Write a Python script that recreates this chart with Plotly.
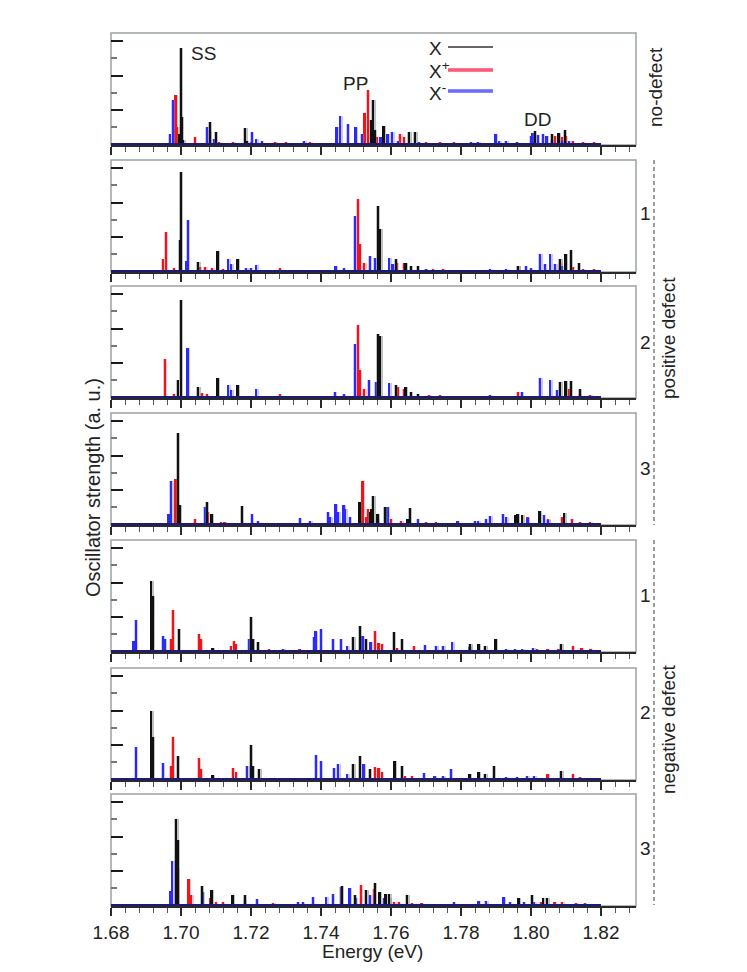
import plotly.graph_objects as go
from plotly.subplots import make_subplots

# peak positions (eV) and oscillator strengths (a.u.)
# x = neutral exciton X, xp = X+, xm = X-

# no defect
nd_x = [(1.6995, 0.3), (1.7000, 2.81), (1.7003, 0.80), (1.7007, 0.12), (1.7083, 0.64), (1.7101, 0.34),
        (1.7184, 0.46), (1.7188, 0.10), (1.7543, 0.71), (1.7550, 1.29), (1.7555, 0.40), (1.7579, 0.52),
        (1.7653, 0.35), (1.7670, 0.35), (1.8012, 0.38), (1.8060, 0.29), (1.8079, 0.33), (1.8097, 0.40)]
nd_xp = [(1.6985, 1.43), (1.6990, 0.50), (1.7040, 0.20), (1.7083, 0.38), (1.7110, 0.06), (1.7150, 0.05),
         (1.7200, 0.05), (1.7270, 0.05), (1.7300, 0.05), (1.7370, 0.05), (1.7525, 0.90), (1.7535, 1.58),
         (1.7560, 0.20), (1.7627, 0.29), (1.7637, 0.22), (1.7700, 0.05), (1.7740, 0.05), (1.7780, 0.05),
         (1.7830, 0.04), (1.8070, 0.24), (1.8090, 0.20), (1.8100, 0.24), (1.8120, 0.10), (1.8150, 0.07),
         (1.8180, 0.06)]
nd_xm = [(1.6970, 0.30), (1.6977, 1.30), (1.7074, 0.49), (1.7095, 0.15), (1.7203, 0.35), (1.7216, 0.14),
         (1.7232, 0.08), (1.7353, 0.10), (1.7445, 0.50), (1.7456, 0.81), (1.7478, 0.60), (1.7499, 0.50),
         (1.7518, 0.30), (1.7555, 0.15), (1.7571, 0.20), (1.7591, 0.29), (1.7604, 0.36), (1.7620, 0.10),
         (1.7680, 0.06), (1.7830, 0.05), (1.7850, 0.05), (1.7899, 0.31), (1.7910, 0.10), (1.7930, 0.08),
         (1.7960, 0.07), (1.8000, 0.25), (1.8005, 0.33), (1.8020, 0.28), (1.8035, 0.30), (1.8045, 0.25),
         (1.8060, 0.12), (1.8090, 0.10), (1.8110, 0.08)]

# positive defect 1
p1_x = [(1.6998, 0.90), (1.7000, 2.89), (1.7050, 0.26), (1.7105, 0.59), (1.7162, 0.35), (1.7563, 1.90),
        (1.7570, 1.24), (1.7614, 0.35), (1.7642, 0.24), (1.7658, 0.14), (1.7678, 0.14), (1.7964, 0.16),
        (1.8084, 0.36), (1.8099, 0.50), (1.8115, 0.62), (1.8138, 0.24)]
p1_xp = [(1.6950, 0.35), (1.6957, 1.14), (1.6980, 0.10), (1.7055, 0.12), (1.7070, 0.12), (1.7090, 0.08),
         (1.7120, 0.06), (1.7283, 0.10), (1.7506, 2.10), (1.7512, 0.80), (1.7524, 0.24), (1.7617, 0.24),
         (1.7637, 0.24), (1.7700, 0.07), (1.7720, 0.07), (1.7750, 0.07), (1.7964, 0.14), (1.8084, 0.24),
         (1.8120, 0.12), (1.8150, 0.07), (1.8180, 0.06)]
p1_xm = [(1.7016, 0.30), (1.7021, 1.48), (1.7136, 0.35), (1.7144, 0.20), (1.7187, 0.10), (1.7201, 0.10),
         (1.7216, 0.17), (1.7442, 0.16), (1.7466, 0.10), (1.7498, 1.62), (1.7540, 0.45), (1.7555, 0.38),
         (1.7596, 0.38), (1.7605, 0.20), (1.7700, 0.06), (1.7884, 0.07), (1.7930, 0.07), (1.7986, 0.15),
         (1.8000, 0.10), (1.8027, 0.50), (1.8040, 0.20), (1.8056, 0.50), (1.8070, 0.20), (1.8090, 0.15)]

# positive defect 2
p2_x = [(1.6993, 0.50), (1.7000, 2.82), (1.7050, 0.29), (1.7105, 0.57), (1.7162, 0.35), (1.7563, 1.85),
        (1.7570, 1.77), (1.7614, 0.35), (1.7642, 0.29), (1.7658, 0.14), (1.7678, 0.10), (1.8084, 0.43),
        (1.8099, 0.48), (1.8115, 0.48), (1.8140, 0.24)]
p2_xp = [(1.6954, 1.12), (1.6980, 0.10), (1.7060, 0.12), (1.7075, 0.10), (1.7283, 0.08), (1.7506, 2.10),
         (1.7512, 0.80), (1.7524, 0.24), (1.7620, 0.29), (1.7637, 0.24), (1.7710, 0.07), (1.7740, 0.07),
         (1.7964, 0.15), (1.8110, 0.24), (1.8140, 0.10), (1.8170, 0.06)]
p2_xm = [(1.7019, 1.42), (1.7136, 0.35), (1.7144, 0.20), (1.7216, 0.24), (1.7440, 0.16), (1.7466, 0.10),
         (1.7498, 1.56), (1.7537, 0.50), (1.7558, 0.43), (1.7596, 0.41), (1.7884, 0.07), (1.7975, 0.15),
         (1.8027, 0.56), (1.8056, 0.50), (1.8075, 0.20)]

# positive defect 3
p3_x = [(1.6992, 2.65), (1.6998, 0.55), (1.7075, 0.64), (1.7088, 0.30), (1.7175, 0.52), (1.7511, 0.64),
        (1.7540, 0.35), (1.7545, 0.45), (1.7550, 0.83), (1.7562, 0.30), (1.7584, 0.50), (1.7648, 0.15),
        (1.7654, 0.47), (1.7956, 0.28), (1.7962, 0.30), (1.7976, 0.28), (1.8025, 0.37), (1.8096, 0.32)]
p3_xp = [(1.6985, 1.31), (1.7041, 0.16), (1.7077, 0.35), (1.7115, 0.07), (1.7125, 0.06), (1.7519, 1.26),
         (1.7530, 0.21), (1.7534, 0.45), (1.7601, 0.16), (1.7630, 0.10), (1.7650, 0.10), (1.7700, 0.07),
         (1.7730, 0.07), (1.7991, 0.20), (1.8050, 0.15), (1.8090, 0.20), (1.8118, 0.16), (1.8140, 0.07),
         (1.8170, 0.06)]
p3_xm = [(1.6965, 0.30), (1.6973, 1.26), (1.7070, 0.50), (1.7203, 0.30), (1.7221, 0.10), (1.7341, 0.19),
         (1.7370, 0.08), (1.7421, 0.35), (1.7427, 0.20), (1.7442, 0.59), (1.7450, 0.35), (1.7465, 0.55),
         (1.7470, 0.45), (1.7483, 0.21), (1.7562, 0.15), (1.7591, 0.50), (1.7678, 0.16), (1.7791, 0.10),
         (1.7840, 0.10), (1.7850, 0.10), (1.7873, 0.16), (1.7884, 0.24), (1.7920, 0.30), (1.7930, 0.22),
         (1.7991, 0.18), (1.8038, 0.26), (1.8050, 0.12)]

# negative defect 1
n1_x = [(1.6916, 2.04), (1.6920, 1.60), (1.6995, 0.65), (1.7091, 0.10), (1.7201, 0.99), (1.7206, 0.36),
        (1.7221, 0.27), (1.7493, 0.41), (1.7512, 0.73), (1.7529, 0.36), (1.7609, 0.56), (1.7632, 0.36),
        (1.7827, 0.22), (1.7851, 0.22), (1.7870, 0.15), (1.7899, 0.36), (1.8087, 0.22)]
n1_xp = [(1.6972, 0.35), (1.6977, 1.21), (1.7052, 0.51), (1.7057, 0.35), (1.7144, 0.15), (1.7152, 0.29),
         (1.7157, 0.22), (1.7252, 0.05), (1.7339, 0.05), (1.7555, 0.58), (1.7565, 0.25), (1.7575, 0.22),
         (1.7617, 0.10), (1.7666, 0.15), (1.8017, 0.07), (1.8048, 0.07), (1.8079, 0.07), (1.8120, 0.15),
         (1.8145, 0.08), (1.8171, 0.06)]
n1_xm = [(1.6865, 0.30), (1.6872, 0.92), (1.6949, 0.44), (1.6954, 0.35), (1.7195, 0.36), (1.7206, 0.36),
         (1.7293, 0.05), (1.7380, 0.40), (1.7385, 0.58), (1.7401, 0.65), (1.7435, 0.36), (1.7457, 0.36),
         (1.7476, 0.15), (1.7519, 0.44), (1.7542, 0.27), (1.7697, 0.17), (1.7730, 0.15), (1.7750, 0.15),
         (1.7776, 0.27), (1.7825, 0.12), (1.7930, 0.07), (1.7955, 0.07), (1.7976, 0.07), (1.8007, 0.10)]

# negative defect 2
n2_x = [(1.6916, 1.98), (1.6920, 1.22), (1.6992, 0.67), (1.7091, 0.11), (1.7201, 1.00), (1.7206, 0.38),
        (1.7224, 0.30), (1.7493, 0.45), (1.7512, 0.67), (1.7540, 0.29), (1.7611, 0.52), (1.7632, 0.38),
        (1.7825, 0.14), (1.7851, 0.20), (1.7870, 0.14), (1.7894, 0.38), (1.8087, 0.24)]
n2_xp = [(1.6972, 0.38), (1.6978, 1.22), (1.7052, 0.62), (1.7057, 0.30), (1.7149, 0.33), (1.7157, 0.20),
         (1.7555, 0.36), (1.7565, 0.33), (1.7575, 0.20), (1.7640, 0.10), (1.7660, 0.10), (1.8048, 0.14),
         (1.8120, 0.16), (1.8140, 0.07)]
n2_xm = [(1.6872, 0.93), (1.6949, 0.46), (1.7190, 0.38), (1.7386, 0.71), (1.7401, 0.52), (1.7437, 0.33),
         (1.7450, 0.43), (1.7476, 0.14), (1.7522, 0.43), (1.7695, 0.17), (1.7725, 0.10), (1.7750, 0.10),
         (1.7772, 0.30), (1.7930, 0.07), (1.7960, 0.07), (1.7990, 0.08), (1.8010, 0.08)]

# negative defect 3
n3_x = [(1.6987, 2.52), (1.6992, 1.90), (1.7060, 0.57), (1.7088, 0.43), (1.7148, 0.29), (1.7183, 0.30),
        (1.7460, 0.57), (1.7498, 0.29), (1.7530, 0.43), (1.7555, 0.65), (1.7568, 0.38), (1.7585, 0.33),
        (1.7596, 0.33), (1.7647, 0.29), (1.7965, 0.21), (1.8003, 0.29), (1.8036, 0.21), (1.8047, 0.20)]
n3_xp = [(1.6990, 1.07), (1.7022, 0.76), (1.7030, 0.30), (1.7085, 0.21), (1.7100, 0.10), (1.7120, 0.10),
         (1.7264, 0.05), (1.7514, 0.59), (1.7552, 0.48), (1.7610, 0.10), (1.7623, 0.10), (1.7660, 0.07),
         (1.7688, 0.07), (1.8030, 0.10), (1.8068, 0.10), (1.8090, 0.10), (1.8130, 0.05), (1.8155, 0.05)]
n3_xm = [(1.6971, 0.40), (1.6976, 1.29), (1.7063, 0.38), (1.7183, 0.15), (1.7218, 0.17), (1.7335, 0.08),
         (1.7349, 0.10), (1.7378, 0.24), (1.7416, 0.24), (1.7435, 0.33), (1.7458, 0.52), (1.7482, 0.50),
         (1.7500, 0.20), (1.7540, 0.30), (1.7580, 0.20), (1.7596, 0.20), (1.7780, 0.08), (1.7851, 0.12),
         (1.7873, 0.12), (1.7922, 0.24), (1.7940, 0.10), (1.7980, 0.10), (1.8010, 0.10)]

panels = [(nd_x, nd_xp, nd_xm), (p1_x, p1_xp, p1_xm), (p2_x, p2_xp, p2_xm), (p3_x, p3_xp, p3_xm),
          (n1_x, n1_xp, n1_xm), (n2_x, n2_xp, n2_xm), (n3_x, n3_xp, n3_xm)]
panel_labels = ["1", "2", "3", "1", "2", "3"]
x_ticks = [1.68, 1.70, 1.72, 1.74, 1.76, 1.78, 1.80, 1.82]

# page layout in screen pixels; the html body adds an 8px margin, so the
# figure itself is 16px smaller than the window and everything is shifted by 8
OFF = 8
W, H = 747 - 2 * OFF, 972 - 2 * OFF
L, R, T, B = 111, 636, 33, 907
tops = [33, 160, 286, 413, 540, 668, 794]
PH = 112


def px(x):
    return (x - L) / (R - L)


def py(y):
    return (B - y) / (B - T)


FONT = "Liberation Sans, Arial, sans-serif"
TXT = "#222222"
# (core colour, halo colour) for X, X+, X-
colors = {"x": ("#111111", "#6f7878"), "xp": ("#f01414", "#ff7a98"), "xm": ("#2b2bf5", "#8a8aff")}

fig = make_subplots(rows=7, cols=1)

for i, (sx, sxp, sxm) in enumerate(panels):
    row = i + 1
    for key, series in (("xp", sxp), ("xm", sxm), ("x", sx)):
        e = [p[0] for p in series]
        h = [p[1] for p in series]
        core, halo = colors[key]
        fig.add_trace(go.Bar(x=e, y=h, width=0.0012, marker=dict(color=halo, line_width=0),
                             opacity=0.45, hoverinfo="skip"), row=row, col=1)
        fig.add_trace(go.Bar(x=e, y=h, width=0.0005, marker=dict(color=core, line_width=0),
                             hoverinfo="x+y"), row=row, col=1)
    fig.add_trace(go.Scatter(x=[1.68, 1.82], y=[0, 0], mode="lines",
                             line=dict(color="#1c1c78", width=2.5), hoverinfo="skip"), row=row, col=1)

    top = tops[i]
    dom = [py(top + PH), py(top)]
    fig.update_yaxes(domain=dom, range=[-0.025, 3.24], showticklabels=False, showgrid=False,
                     zeroline=False, showline=False, ticks="inside", ticklen=12, tickwidth=2,
                     tickcolor="#1a1a1a", dtick=1, tick0=0,
                     minor=dict(dtick=0.5, tick0=0, ticks="inside", ticklen=6, tickwidth=1.5,
                                tickcolor="#777777"),
                     row=row, col=1)
    fig.update_xaxes(range=[1.68, 1.83], showgrid=False, zeroline=False, showline=True,
                     linecolor="#2a2a2a", linewidth=1.5, ticks="outside", ticklen=8, tickwidth=1.5,
                     tickcolor="#2a2a2a", tickvals=x_ticks, tickformat=".2f",
                     showticklabels=(row == 7), tickfont=dict(size=19, color=TXT, family=FONT),
                     minor=dict(dtick=0.004, tick0=1.68, ticks="outside", ticklen=5, tickwidth=1.2,
                                tickcolor="#555555"),
                     row=row, col=1)
    # light grey frame around each panel
    fig.add_shape(type="rect", xref="paper", yref="paper", x0=0, x1=1, y0=dom[0], y1=dom[1],
                  line=dict(color="#9aa2a2", width=1.5), layer="below")

annotations = []


def label(text, x, y, size=19, angle=0, xanchor="center"):
    annotations.append(dict(text=text, xref="paper", yref="paper", x=px(x), y=py(y),
                            xanchor=xanchor, yanchor="middle", showarrow=False, textangle=angle,
                            font=dict(size=size, color=TXT, family=FONT)))


label("SS", 203, 54)
label("PP", 355, 84)
label("DD", 537, 120)

# legend drawn by hand (text left of line)
label("X", 427, 48.5, xanchor="left")
label("X<sup>+</sup>", 427, 70, xanchor="left")
label("X<sup>-</sup>", 427, 92, xanchor="left")
for yl, key in ((47, "x"), (70, "xp"), (91, "xm")):
    core, halo = colors[key]
    if key == "x":
        fig.add_shape(type="line", xref="paper", yref="paper", x0=px(448), x1=px(493), y0=py(yl),
                      y1=py(yl), line=dict(color="#333333", width=1.5))
    else:
        fig.add_shape(type="line", xref="paper", yref="paper", x0=px(448), x1=px(493), y0=py(yl),
                      y1=py(yl), line=dict(color=halo, width=4))
        fig.add_shape(type="line", xref="paper", yref="paper", x0=px(448), x1=px(493), y0=py(yl),
                      y1=py(yl), line=dict(color=core, width=1), opacity=0.6)

# right-hand labels
label("no-defect", 655, 87, angle=-90)
for lab, yc in zip(panel_labels, [213, 342, 468, 595, 712, 848]):
    label(lab, 645, yc)
label("positive defect", 668, 338, angle=-90)
label("negative defect", 668, 729, angle=-90)
for y0, y1 in ((160, 525), (540, 905)):
    fig.add_shape(type="line", xref="paper", yref="paper", x0=px(654), x1=px(654), y0=py(y0),
                  y1=py(y1), line=dict(color="#7d7d7d", width=1.5, dash="4px,3px"))

# axis titles
label("Energy (eV)", 372, 951, size=19)
label("Oscillator strength (a. u.)", 93, 488, size=20, angle=-90)

fig.update_layout(
    width=W, height=H,
    margin=dict(l=L - OFF, r=747 - OFF - R, t=T - OFF, b=972 - OFF - B),
    barmode="overlay", bargap=0,
    showlegend=False,
    plot_bgcolor="white", paper_bgcolor="white",
    font=dict(family=FONT, color=TXT),
    annotations=annotations,
)

fig.write_html("out.html")
